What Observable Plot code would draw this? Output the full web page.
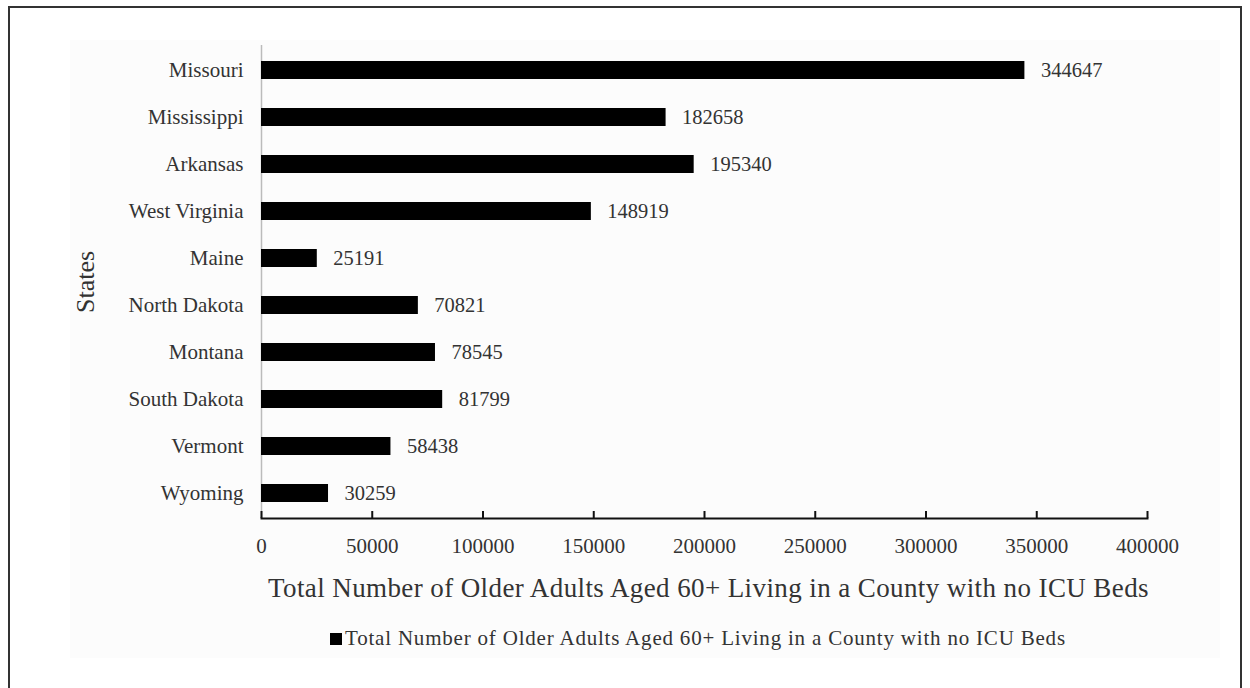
<!DOCTYPE html>
<html>
<head>
<meta charset="utf-8">
<script src="https://cdn.jsdelivr.net/npm/d3@7"></script>
<script src="https://cdn.jsdelivr.net/npm/@observablehq/plot@0.6"></script>
<style>
  html, body { margin: 0; padding: 0; background: #fff; }
  #wrap { position: relative; width: 1250px; height: 688px; overflow: hidden; font-family: "Liberation Serif", "DejaVu Serif", serif; color: #333; }
  #bg { position: absolute; left: 70px; top: 40px; width: 1150px; height: 618px; background: #fcfcfc; }
  #border { position: absolute; left: 8px; top: 6px; width: 1234px; height: 720px; border: 2px solid #333; box-sizing: border-box; }
  #chart { position: absolute; left: 0; top: 0; }
  #xlabel { position: absolute; left: 268px; top: 571px; font-size: 27px; letter-spacing: 0.4px; line-height: 34px; white-space: nowrap; }
  #legend { position: absolute; left: 330px; top: 625px; font-size: 21px; letter-spacing: 0.8px; line-height: 26px; white-space: nowrap; }
  #legend .sw { display: inline-block; width: 12px; height: 12px; background: #000; margin-right: 3px; vertical-align: 0px; }
</style>
</head>
<body>
<div id="wrap">
  <div id="bg"></div>
  <div id="border"></div>
  <div id="chart"></div>
  <div id="xlabel">Total Number of Older Adults Aged 60+ Living in a County with no ICU Beds</div>
  <div id="legend"><span class="sw"></span>Total Number of Older Adults Aged 60+ Living in a County with no ICU Beds</div>
</div>
<script>
const states = ["Missouri", "Mississippi", "Arkansas", "West Virginia", "Maine", "North Dakota", "Montana", "South Dakota", "Vermont", "Wyoming"];
const values = [344647, 182658, 195340, 148919, 25191, 70821, 78545, 81799, 58438, 30259];
const xTicks = [0, 50000, 100000, 150000, 200000, 250000, 300000, 350000, 400000];

const data = states.map((s, i) => ({state: s, value: values[i]}));

const chart = Plot.plot({
  width: 1250,
  height: 560,
  marginLeft: 261,
  marginRight: 103,
  marginTop: 45,
  marginBottom: 42,
  style: {fontFamily: "'Liberation Serif', 'DejaVu Serif', serif", color: "#333", background: "transparent", overflow: "visible"},
  x: {domain: [0, 400000]},
  y: {domain: states, paddingInner: 0.62, paddingOuter: 0.31},
  marks: [
    Plot.ruleX([0], {stroke: "#bbb", strokeWidth: 1.5}),
    Plot.barX(data, {x: "value", y: "state", fill: "#000"}),
    Plot.text(data, {x: "value", y: "state", text: d => String(d.value), dx: 16, textAnchor: "start", fontSize: 20.5, fill: "#333"}),
    Plot.axisY({tickSize: 0, tickPadding: 18, fontSize: 21, label: null}),
    Plot.axisY({ticks: [], label: "States", labelAnchor: "center", labelOffset: 186, fontSize: 26}),
    Plot.frame({anchor: "bottom", stroke: "#111", strokeWidth: 2}),
    Plot.axisX({ticks: xTicks, tickSize: -7, tickPadding: 27, tickFormat: d => String(d), fontSize: 21, label: null, stroke: "#111", strokeWidth: 2})
  ]
});
document.getElementById("chart").appendChild(chart);
</script>
</body>
</html>
